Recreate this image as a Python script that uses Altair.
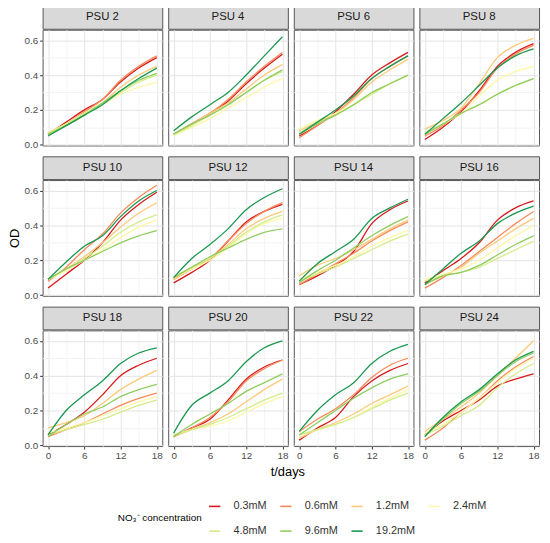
import altair as alt
import pandas as pd

days = [0, 3, 6, 9, 12, 15, 18]
concs = ["0.3mM", "0.6mM", "1.2mM", "2.4mM", "4.8mM", "9.6mM", "19.2mM"]
colors = ["#d7191c", "#f98a5a", "#fdc97a", "#fdf7a6", "#d4ec88", "#8fcd5f", "#1a9850"]
psu_names = ["PSU 2", "PSU 4", "PSU 6", "PSU 8",
             "PSU 10", "PSU 12", "PSU 14", "PSU 16",
             "PSU 18", "PSU 20", "PSU 22", "PSU 24"]

# OD values, one row per NO3- concentration (order of concs), columns = days
psu2 = [[0.06, 0.13, 0.20, 0.26, 0.36, 0.44, 0.50],
        [0.06, 0.12, 0.19, 0.26, 0.37, 0.45, 0.51],
        [0.06, 0.11, 0.17, 0.24, 0.33, 0.40, 0.45],
        [0.07, 0.12, 0.18, 0.23, 0.29, 0.33, 0.36],
        [0.07, 0.12, 0.18, 0.24, 0.30, 0.36, 0.40],
        [0.06, 0.11, 0.17, 0.24, 0.31, 0.37, 0.41],
        [0.05, 0.11, 0.17, 0.23, 0.31, 0.38, 0.44]]
psu4 = [[0.06, 0.12, 0.18, 0.25, 0.35, 0.44, 0.52],
        [0.06, 0.12, 0.18, 0.26, 0.36, 0.45, 0.53],
        [0.06, 0.12, 0.18, 0.24, 0.32, 0.40, 0.46],
        [0.05, 0.10, 0.15, 0.21, 0.27, 0.33, 0.38],
        [0.06, 0.11, 0.17, 0.23, 0.30, 0.37, 0.42],
        [0.06, 0.12, 0.17, 0.23, 0.30, 0.37, 0.43],
        [0.08, 0.16, 0.23, 0.30, 0.40, 0.51, 0.62]]
psu6 = [[0.05, 0.11, 0.19, 0.29, 0.40, 0.47, 0.53],
        [0.04, 0.11, 0.18, 0.27, 0.38, 0.45, 0.51],
        [0.08, 0.13, 0.18, 0.26, 0.36, 0.43, 0.49],
        [0.09, 0.14, 0.18, 0.23, 0.29, 0.35, 0.40],
        [0.07, 0.12, 0.17, 0.23, 0.29, 0.35, 0.40],
        [0.06, 0.12, 0.17, 0.23, 0.30, 0.35, 0.40],
        [0.06, 0.13, 0.20, 0.28, 0.38, 0.45, 0.51]]
psu8 = [[0.03, 0.10, 0.19, 0.31, 0.45, 0.53, 0.58],
        [0.05, 0.11, 0.20, 0.30, 0.44, 0.52, 0.57],
        [0.09, 0.14, 0.21, 0.35, 0.50, 0.57, 0.61],
        [0.06, 0.12, 0.18, 0.28, 0.37, 0.42, 0.45],
        [0.07, 0.12, 0.18, 0.23, 0.29, 0.34, 0.38],
        [0.06, 0.12, 0.18, 0.23, 0.29, 0.34, 0.38],
        [0.06, 0.15, 0.24, 0.34, 0.44, 0.51, 0.55]]
psu10 = [[0.04, 0.12, 0.20, 0.30, 0.43, 0.52, 0.59],
         [0.08, 0.16, 0.26, 0.35, 0.47, 0.56, 0.63],
         [0.09, 0.15, 0.22, 0.30, 0.39, 0.47, 0.53],
         [0.09, 0.14, 0.20, 0.26, 0.33, 0.39, 0.43],
         [0.09, 0.15, 0.21, 0.28, 0.36, 0.42, 0.46],
         [0.09, 0.15, 0.20, 0.25, 0.30, 0.34, 0.37],
         [0.09, 0.19, 0.28, 0.34, 0.45, 0.54, 0.60]]
psu12 = [[0.07, 0.13, 0.20, 0.31, 0.42, 0.48, 0.52],
         [0.09, 0.15, 0.21, 0.31, 0.41, 0.48, 0.53],
         [0.09, 0.15, 0.21, 0.29, 0.38, 0.44, 0.48],
         [0.10, 0.15, 0.20, 0.27, 0.35, 0.41, 0.44],
         [0.10, 0.16, 0.21, 0.28, 0.36, 0.42, 0.46],
         [0.10, 0.16, 0.22, 0.27, 0.32, 0.36, 0.38],
         [0.10, 0.21, 0.29, 0.38, 0.49, 0.56, 0.61]]
psu14 = [[0.06, 0.11, 0.17, 0.25, 0.41, 0.49, 0.54],
         [0.06, 0.12, 0.18, 0.24, 0.31, 0.37, 0.42],
         [0.11, 0.17, 0.21, 0.26, 0.32, 0.38, 0.43],
         [0.09, 0.13, 0.17, 0.22, 0.28, 0.33, 0.37],
         [0.08, 0.12, 0.16, 0.21, 0.26, 0.31, 0.35],
         [0.07, 0.14, 0.20, 0.27, 0.34, 0.40, 0.45],
         [0.08, 0.18, 0.25, 0.32, 0.44, 0.50, 0.55]]
psu16 = [[0.07, 0.14, 0.21, 0.30, 0.43, 0.50, 0.54],
         [0.04, 0.10, 0.17, 0.25, 0.33, 0.41, 0.48],
         [0.06, 0.11, 0.16, 0.24, 0.31, 0.38, 0.44],
         [0.09, 0.12, 0.15, 0.20, 0.27, 0.34, 0.40],
         [0.08, 0.11, 0.13, 0.16, 0.21, 0.26, 0.31],
         [0.06, 0.11, 0.13, 0.17, 0.23, 0.29, 0.34],
         [0.06, 0.15, 0.24, 0.31, 0.41, 0.47, 0.51]]
psu18 = [[0.06, 0.12, 0.19, 0.29, 0.40, 0.46, 0.50],
         [0.05, 0.09, 0.13, 0.18, 0.23, 0.27, 0.30],
         [0.10, 0.13, 0.17, 0.24, 0.32, 0.38, 0.43],
         [0.07, 0.10, 0.13, 0.17, 0.21, 0.25, 0.28],
         [0.06, 0.09, 0.12, 0.15, 0.19, 0.23, 0.26],
         [0.05, 0.12, 0.18, 0.22, 0.28, 0.32, 0.35],
         [0.06, 0.20, 0.29, 0.37, 0.47, 0.53, 0.56]]
psu20 = [[0.05, 0.10, 0.15, 0.26, 0.38, 0.45, 0.49],
         [0.05, 0.10, 0.16, 0.25, 0.37, 0.44, 0.49],
         [0.05, 0.09, 0.13, 0.18, 0.25, 0.32, 0.38],
         [0.06, 0.09, 0.11, 0.14, 0.19, 0.24, 0.28],
         [0.06, 0.09, 0.12, 0.16, 0.21, 0.26, 0.30],
         [0.05, 0.12, 0.18, 0.24, 0.31, 0.36, 0.41],
         [0.07, 0.23, 0.30, 0.37, 0.48, 0.56, 0.60]]
psu22 = [[0.03, 0.10, 0.16, 0.28, 0.37, 0.43, 0.47],
         [0.08, 0.15, 0.21, 0.29, 0.39, 0.46, 0.50],
         [0.04, 0.09, 0.13, 0.18, 0.24, 0.29, 0.34],
         [0.06, 0.09, 0.12, 0.16, 0.22, 0.27, 0.32],
         [0.06, 0.09, 0.12, 0.16, 0.21, 0.26, 0.30],
         [0.06, 0.13, 0.20, 0.27, 0.33, 0.38, 0.41],
         [0.08, 0.20, 0.29, 0.36, 0.47, 0.54, 0.58]]
psu24 = [[0.06, 0.14, 0.20, 0.26, 0.34, 0.38, 0.41],
         [0.03, 0.10, 0.19, 0.27, 0.37, 0.45, 0.51],
         [0.08, 0.15, 0.22, 0.30, 0.40, 0.50, 0.60],
         [0.07, 0.12, 0.19, 0.27, 0.36, 0.44, 0.50],
         [0.06, 0.11, 0.17, 0.23, 0.33, 0.41, 0.47],
         [0.05, 0.15, 0.24, 0.31, 0.40, 0.48, 0.53],
         [0.05, 0.16, 0.25, 0.32, 0.41, 0.49, 0.54]]

panel_values = [psu2, psu4, psu6, psu8, psu10, psu12,
                psu14, psu16, psu18, psu20, psu22, psu24]

records = []
for name, table in zip(psu_names, panel_values):
    for conc, series in zip(concs, table):
        for t, od in zip(days, series):
            records.append({"psu": name, "conc": conc, "t": t, "od": od})
df = pd.DataFrame(records)

W, H, SH = 121, 117, 23
FONT = "Liberation Sans"
x_ticks = [0, 3, 6, 9, 12, 15, 18]
y_ticks = [0.0, 0.1, 0.2, 0.3, 0.4, 0.5, 0.6]

x_major = "datum.value % 6 === 0"
y_major = "round(datum.value * 10) % 2 === 0"

color_enc = alt.Color(
    "conc:N",
    scale=alt.Scale(domain=concs, range=colors),
    legend=alt.Legend(
        title="NO₃⁻ concentration",
        orient="none", legendX=76, legendY=499,
        direction="horizontal", columns=4,
        titleOrient="left", titleAnchor="middle",
        titleFontSize=10, titleFontWeight="normal", titleColor="#000000",
        titleFont=FONT, titlePadding=6,
        labelFontSize=11, labelColor="#333333", labelFont=FONT,
        symbolType="stroke", symbolSize=130, symbolStrokeWidth=1.6,
        labelOffset=12, columnPadding=10, rowPadding=13,
    ),
)


def strip(name):
    return alt.Chart(pd.DataFrame({"label": [name]})).mark_text(
        fontSize=11.5, color="#1a1a1a", font=FONT
    ).encode(text="label:N").properties(
        width=W, height=SH,
        view=alt.ViewBackground(fill="#d9d9d9", stroke="#555555", strokeWidth=1),
    )


def plot(name, row, col):
    left = col == 0
    bottom = row == 2
    x_kwargs = dict(
        values=x_ticks, grid=True,
        gridColor={"condition": {"test": x_major, "value": "#e4e4e4"}, "value": "#f3f3f3"},
        domain=False, title=None, minExtent=0,
    )
    if bottom:
        x_axis = alt.Axis(
            labels=True, ticks=True,
            labelExpr="datum.value % 6 === 0 ? datum.label : ''",
            tickOpacity={"condition": {"test": x_major, "value": 1}, "value": 0},
            tickColor="#333333", tickSize=3,
            labelFontSize=10, labelColor="#4d4d4d", labelFont=FONT, labelPadding=2,
            **x_kwargs,
        )
    else:
        x_axis = alt.Axis(labels=False, ticks=False, tickSize=0, labelPadding=0,
                          maxExtent=0, **x_kwargs)
    y_kwargs = dict(
        values=y_ticks, grid=True, format=".1f",
        gridColor={"condition": {"test": y_major, "value": "#e4e4e4"}, "value": "#f3f3f3"},
        labels=left, ticks=left,
        labelExpr="round(datum.value * 10) % 2 === 0 ? datum.label : ''",
        tickOpacity={"condition": {"test": y_major, "value": 1}, "value": 0},
        tickColor="#333333", tickSize=3, domain=False, minExtent=0,
        labelFontSize=10, labelColor="#4d4d4d", labelFont=FONT, labelPadding=2,
    )
    if left and row == 1:
        y_axis = alt.Axis(title="OD", titleFontSize=13, titleFontWeight="normal",
                          titleColor="#000000", titleFont=FONT, titlePadding=2,
                          **y_kwargs)
    else:
        y_axis = alt.Axis(title=None, **y_kwargs)
    return alt.Chart(df[df["psu"] == name]).mark_line(
        strokeWidth=1.3, interpolate="monotone"
    ).encode(
        x=alt.X("t:Q", scale=alt.Scale(domain=[-0.9, 18.9], nice=False, zero=False), axis=x_axis),
        y=alt.Y("od:Q", scale=alt.Scale(domain=[-0.004, 0.66], nice=False, zero=False), axis=y_axis),
        color=color_enc,
    ).properties(
        width=W, height=H,
        view=alt.ViewBackground(stroke="#555555", strokeWidth=1, fill="white"),
    )


rows = []
for r in range(3):
    panels = []
    for c in range(4):
        name = psu_names[r * 4 + c]
        panels.append(alt.vconcat(strip(name), plot(name, r, c), spacing=-2))
    rows.append(alt.hconcat(*panels, spacing=4))
grid = alt.vconcat(*rows, spacing=5)

xtitle = alt.Chart(pd.DataFrame({"label": ["t/days"]})).mark_text(
    fontSize=13, color="#000000", font=FONT
).encode(text="label:N").properties(width=4 * W + 12, height=16)

chart = alt.vconcat(grid, xtitle, spacing=2).properties(
    padding={"left": 0, "top": -6, "right": 2, "bottom": 2}
).configure_view(stroke="transparent").configure(font=FONT)

chart.save("out.html", embed_options={"renderer": "svg", "actions": False})
